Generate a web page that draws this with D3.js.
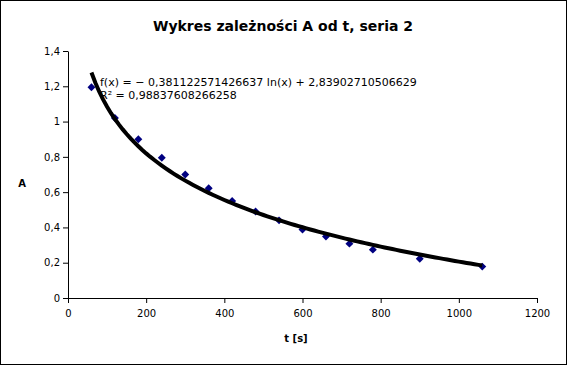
<!DOCTYPE html>
<html><head><meta charset="utf-8">
<script src="https://cdnjs.cloudflare.com/ajax/libs/d3/7.8.5/d3.min.js"></script>
<style>html,body{margin:0;padding:0;background:#fff;}svg{display:block;font-family:"DejaVu Sans",sans-serif;}</style>
</head><body>
<script>
const tValues = [60,120,180,240,300,360,420,480,540,600,660,720,780,900,1060];
const aValues = [1.195,1.02,0.9,0.795,0.70,0.622,0.55,0.49,0.44,0.388,0.348,0.308,0.274,0.222,0.178];
const xTicks = [0,200,400,600,800,1000,1200];
const yTicks = [0,0.2,0.4,0.6,0.8,1,1.2,1.4];
const trendSlope = -0.381122571426637;
const trendIntercept = 2.83902710506629;
const title = "Wykres zależności A od t, seria 2";
const eqText = "f(x) = − 0,381122571426637 ln(x) + 2,83902710506629";
const r2Text = "R² = 0,98837608266258";

const W = 567, H = 365;
const svg = d3.select("body").append("svg").attr("width", W).attr("height", H);
svg.append("rect").attr("x",0.5).attr("y",0.5).attr("width",W-1).attr("height",H-1).attr("fill","#fff").attr("stroke","#000");

const x = d3.scaleLinear().domain([0,1200]).range([68,537]);
const y = d3.scaleLinear().domain([0,1.4]).range([298,51]);
const fmt = d => d3.format("")(d).replace(".", ",");

const gx = svg.append("g").attr("transform","translate(0,298)")
  .call(d3.axisBottom(x).tickValues(xTicks).tickSize(5).tickSizeOuter(0).tickFormat(d3.format("d")));
const gy = svg.append("g").attr("transform","translate(68,0)")
  .call(d3.axisLeft(y).tickValues(yTicks).tickSize(5).tickSizeOuter(0).tickFormat(fmt));
[gx,gy].forEach(g=>{
  g.selectAll("text").attr("font-family","DejaVu Sans").attr("font-size",10).attr("fill","#000");
  g.selectAll("line,path").attr("stroke","#000");
});
gx.selectAll("text").attr("dy","1.1em");

svg.append("text").attr("x",283).attr("y",31).attr("text-anchor","middle")
  .attr("font-size",14).attr("font-weight","bold").text(title);
svg.append("text").attr("x",22).attr("y",187).attr("text-anchor","middle")
  .attr("font-size",10).attr("font-weight","bold").text("A");
svg.append("text").attr("x",296).attr("y",342).attr("text-anchor","middle")
  .attr("font-size",10).attr("font-weight","bold").text("t [s]");

svg.append("text").attr("x",100).attr("y",86).attr("font-size",11).text(eqText);
svg.append("text").attr("x",100).attr("y",99).attr("font-size",11).text(r2Text);

svg.selectAll("path.pt").data(tValues).enter().append("path")
  .attr("d", d3.symbol().type(d3.symbolDiamond2).size(40))
  .attr("transform",(d,i)=>`translate(${x(d)},${y(aValues[i])})`)
  .attr("fill","#000080");

const tMin = d3.min(tValues), tMax = d3.max(tValues);
const trendT = d3.range(0, 101).map(i => tMin + (tMax - tMin) * i / 100);
const line = d3.line().x(d=>x(d)).y(d=>y(trendSlope*Math.log(d)+trendIntercept));
svg.append("path").datum(trendT).attr("d",line).attr("fill","none")
  .attr("stroke","#000").attr("stroke-width",4);
</script>
</body></html>
